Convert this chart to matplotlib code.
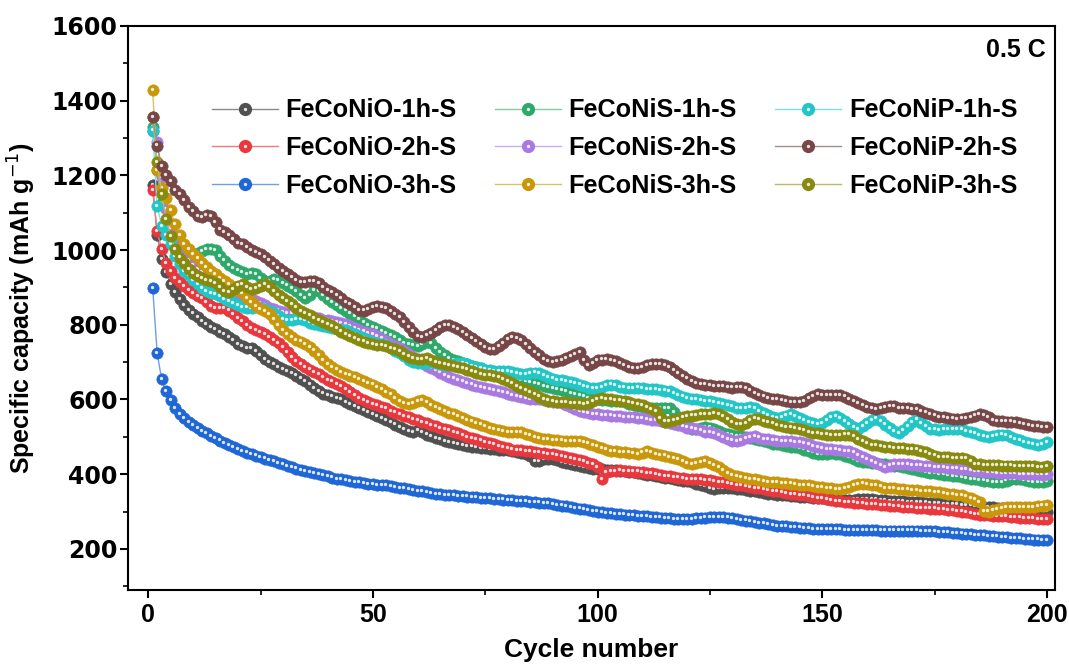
import numpy as np
import matplotlib.pyplot as plt
from matplotlib.lines import Line2D
from matplotlib.legend_handler import HandlerTuple
from matplotlib.transforms import ScaledTranslation
from matplotlib.ticker import MultipleLocator

cycles = np.arange(1, 201)

# specific capacity (mAh g-1), cycle 1..200
feconio_1h = [
    1173, 1040, 976, 940, 910, 888, 868, 852, 840, 830,
    820, 810, 802, 795, 788, 780, 775, 768, 758, 748,
    742, 738, 737, 730, 720, 708, 700, 694, 688, 682,
    676, 670, 664, 656, 649, 640, 630, 622, 616, 612,
    608, 604, 600, 594, 588, 582, 576, 571, 566, 561,
    556, 551, 546, 540, 533, 526, 520, 516, 513, 518,
    512, 506, 501, 497, 493, 489, 486, 483, 480, 478,
    476, 474, 472, 470, 469, 468, 467, 466, 465, 464,
    462, 460, 458, 455, 448, 436, 434, 440, 442, 440,
    437, 433, 429, 426, 424, 421, 419, 417, 415, 414,
    413, 412, 411, 410, 409, 408, 407, 405, 403, 401,
    399, 397, 395, 393, 391, 389, 387, 385, 383, 381,
    378, 375, 372, 368, 364, 361, 362, 363, 363, 362,
    361, 360, 358, 356, 354, 352, 350, 348, 346, 345,
    344, 343, 342, 341, 340, 339, 338, 337, 336, 335,
    334, 333, 331, 330, 330, 331, 332, 333, 334, 334,
    333, 332, 331, 330, 329, 328, 328, 327, 326, 326,
    325, 325, 324, 323, 323, 322, 321, 320, 320, 319,
    318, 317, 316, 315, 314, 313, 312, 311, 310, 309,
    308, 307, 306, 305, 304, 303, 302, 301, 300, 300]

feconio_2h = [
    1160, 1050, 1003, 965, 945, 925, 915, 903, 893, 885,
    878, 872, 862, 850, 845, 845, 845, 838, 828, 818,
    810, 800, 792, 786, 780, 775, 768, 760, 750, 740,
    728, 713, 704, 696, 688, 680, 674, 668, 660, 652,
    648, 642, 635, 628, 620, 613, 605, 598, 592, 587,
    584, 580, 576, 570, 565, 560, 556, 552, 548, 544,
    540, 536, 532, 528, 524, 521, 517, 513, 509, 505,
    500, 496, 493, 490, 487, 484, 480, 476, 472, 469,
    466, 465, 464, 462, 461, 459, 458, 456, 455, 453,
    451, 449, 446, 443, 441, 438, 434, 430, 426, 420,
    388, 405, 408, 409, 410, 409, 408, 407, 407, 406,
    404, 402, 400, 398, 396, 395, 393, 391, 389, 388,
    387, 386, 386, 385, 384, 382, 380, 378, 376, 374,
    372, 370, 368, 366, 364, 362, 360, 358, 356, 354,
    352, 350, 348, 346, 345, 343, 341, 339, 337, 335,
    333, 331, 329, 327, 326, 325, 324, 323, 322, 321,
    320, 319, 318, 317, 316, 315, 314, 313, 312, 311,
    310, 310, 309, 308, 308, 307, 306, 305, 304, 302,
    300, 298, 296, 294, 292, 291, 290, 289, 288, 287,
    287, 286, 285, 284, 283, 283, 282, 281, 281, 281]

feconio_3h = [
    899, 724, 654, 622, 598, 578, 562, 550, 540, 531,
    523, 516, 509, 502, 496, 490, 484, 478, 473, 468,
    463, 458, 454, 450, 446, 442, 438, 434, 430, 426,
    422, 418, 415, 412, 409, 406, 403, 400, 397, 394,
    391, 388, 386, 384, 382, 380, 378, 376, 374, 373,
    372, 371, 370, 368, 366, 364, 362, 360, 358, 356,
    354, 352, 350, 348, 346, 345, 344, 343, 342, 341,
    340, 339, 338, 337, 336, 335, 334, 333, 332, 331,
    330, 329, 328, 327, 326, 325, 324, 323, 322, 320,
    318, 316, 314, 312, 310, 308, 306, 304, 302, 300,
    298, 296, 295, 294, 293, 292, 291, 290, 289, 288,
    287, 286, 285, 284, 283, 282, 281, 281, 280, 280,
    281, 282, 283, 284, 285, 286, 286, 285, 284, 282,
    280, 278, 276, 274, 272, 270, 268, 266, 264, 262,
    261, 260, 259, 258, 257, 256, 255, 254, 254, 254,
    254, 254, 253, 252, 251, 250, 250, 250, 250, 250,
    250, 250, 249, 249, 249, 249, 249, 249, 249, 249,
    249, 248, 248, 248, 247, 246, 245, 244, 243, 242,
    241, 240, 239, 238, 237, 236, 235, 234, 233, 232,
    231, 230, 229, 228, 227, 226, 225, 225, 224, 224]

feconis_1h = [
    1330, 1215, 1125, 1070, 1040, 1025, 1020, 1010, 998, 990,
    992, 998, 1003, 1002, 1000, 985, 972, 960, 952, 946,
    940, 936, 938, 936, 926, 918, 918, 922, 920, 912,
    905, 899, 890, 880, 872, 880, 892, 890, 880, 870,
    860, 852, 845, 838, 830, 822, 814, 806, 800, 795,
    790, 784, 778, 772, 766, 760, 752, 748, 745, 743,
    748, 755, 750, 738, 728, 720, 712, 706, 702, 698,
    694, 690, 686, 683, 680, 676, 671, 666, 662, 659,
    656, 654, 651, 648, 646, 644, 641, 637, 634, 631,
    628, 625, 622, 618, 615, 612, 608, 605, 602, 600,
    599, 598, 597, 596, 595, 592, 589, 586, 583, 580,
    578, 577, 577, 576, 577, 576, 566, 552, 538, 528,
    520, 522, 525, 526, 525, 520, 515, 510, 507, 505,
    503, 501, 499, 497, 495, 492, 488, 485, 482, 480,
    478, 476, 474, 472, 470, 466, 462, 458, 455, 455,
    455, 456, 455, 453, 450, 446, 441, 436, 433, 432,
    431, 430, 428, 426, 425, 423, 421, 419, 417, 415,
    412, 409, 406, 403, 402, 401, 399, 397, 396, 395,
    393, 390, 388, 386, 385, 383, 381, 380, 379, 380,
    383, 386, 388, 388, 385, 381, 378, 378, 380, 382]

feconis_2h = [
    1320, 1290, 1195, 1110, 1060, 1025, 1000, 985, 972, 960,
    950, 940, 930, 920, 912, 905, 898, 892, 886, 880,
    876, 872, 868, 863, 858, 852, 846, 842, 838, 835,
    832, 830, 828, 826, 824, 822, 820, 817, 814, 812,
    810, 808, 805, 801, 797, 792, 787, 782, 778, 775,
    770, 763, 756, 749, 742, 737, 730, 722, 714, 706,
    698, 690, 684, 678, 672, 666, 660, 656, 652, 648,
    644, 640, 637, 634, 631, 628, 625, 622, 619, 616,
    613, 610, 607, 604, 602, 601, 600, 598, 596, 594,
    592, 590, 586, 580, 575, 570, 566, 563, 561, 560,
    559, 558, 557, 556, 555, 554, 553, 552, 551, 550,
    548, 546, 544, 542, 540, 537, 534, 531, 528, 525,
    523, 520, 517, 514, 512, 510, 505, 500, 494, 490,
    488, 492, 497, 500, 501, 498, 495, 493, 491, 490,
    489, 488, 488, 487, 486, 484, 480, 476, 472, 469,
    468, 467, 466, 464, 462, 461, 458, 452, 446, 440,
    435, 429, 424, 420, 423, 426, 427, 427, 426, 425,
    424, 423, 422, 421, 420, 419, 418, 417, 416, 415,
    414, 413, 411, 409, 408, 407, 406, 405, 404, 403,
    403, 402, 402, 401, 401, 400, 400, 400, 399, 400]

feconis_3h = [
    1428, 1215, 1167, 1140, 1106, 1070, 1040, 1017, 1002, 990,
    978, 966, 955, 945, 935, 926, 917, 909, 900, 893,
    886, 872, 860, 850, 843, 836, 829, 815, 800, 785,
    775, 767, 760, 755, 748, 740, 731, 720, 706, 694,
    687, 680, 674, 668, 664, 660, 655, 650, 645, 640,
    634, 628, 621, 614, 604, 596, 590, 588, 591, 595,
    598, 592, 586, 580, 574, 569, 564, 560, 555, 550,
    545, 541, 537, 533, 528, 524, 520, 517, 515, 513,
    512, 512, 512, 508, 504, 500, 497, 495, 493, 492,
    491, 490, 489, 489, 488, 488, 486, 482, 478, 474,
    470, 466, 463, 461, 460, 459, 458, 456, 455, 458,
    461, 458, 455, 452, 450, 447, 443, 440, 436, 431,
    428, 430, 433, 434, 430, 425, 418, 410, 404, 398,
    394, 392, 390, 388, 386, 384, 382, 380, 379, 378,
    377, 376, 375, 374, 372, 371, 370, 368, 366, 365,
    364, 362, 361, 360, 362, 366, 370, 373, 375, 374,
    372, 370, 367, 364, 363, 362, 361, 360, 359, 358,
    357, 356, 355, 354, 353, 351, 350, 348, 347, 345,
    343, 340, 336, 332, 325, 302, 300, 304, 307, 310,
    312, 313, 313, 312, 311, 311, 312, 314, 316, 318]

feconip_1h = [
    1320, 1118, 1065, 1040, 1015, 985, 962, 945, 932, 920,
    908, 898, 890, 886, 882, 876, 870, 864, 858, 853,
    848, 846, 845, 848, 846, 842, 838, 832, 824, 816,
    812, 812, 815, 816, 812, 806, 802, 800, 797, 794,
    791, 790, 789, 785, 780, 775, 770, 765, 760, 755,
    751, 748, 745, 738, 731, 725, 716, 707, 700, 697,
    697, 699, 701, 698, 694, 692, 693, 696, 698, 697,
    694, 690, 687, 684, 680, 678, 677, 676, 676, 675,
    673, 671, 669, 667, 670, 672, 670, 665, 660, 656,
    653, 651, 650, 647, 643, 640, 636, 632, 630, 630,
    634, 638, 640, 638, 634, 632, 630, 631, 632, 630,
    628, 628, 627, 626, 624, 622, 618, 613, 608, 604,
    602, 600, 598, 596, 595, 593, 590, 588, 586, 582,
    577, 576, 578, 580, 576, 570, 564, 558, 553, 550,
    553, 557, 560, 556, 550, 545, 540, 536, 533, 538,
    545, 552, 555, 550, 542, 535, 527, 522, 528, 538,
    545, 549, 543, 533, 524, 515, 509, 518, 530, 540,
    547, 538, 528, 522, 520, 519, 520, 521, 522, 522,
    520, 516, 512, 509, 505, 502, 500, 502, 505, 506,
    504, 499, 495, 491, 487, 483, 480, 478, 481, 487]

feconip_2h = [
    1355, 1280, 1225, 1200, 1185, 1160, 1150, 1135, 1115, 1105,
    1090, 1088, 1093, 1090, 1075, 1055, 1048, 1040, 1030, 1020,
    1015, 1008, 1000, 995, 990, 982, 972, 962, 952, 945,
    937, 928, 920, 915, 915, 918, 918, 912, 900, 893,
    888, 880, 872, 862, 855, 848, 840, 838, 842, 848,
    850, 848, 845, 836, 828, 820, 808, 795, 782, 770,
    768, 772, 778, 786, 795, 800, 800, 795, 788, 780,
    772, 765, 756, 748, 740, 736, 735, 742, 752, 762,
    768, 765, 758, 748, 738, 728, 718, 708, 702, 700,
    703, 706, 710, 716, 722, 728, 705, 692, 698, 705,
    707, 708, 706, 702, 697, 693, 688, 685, 684, 688,
    692, 696, 695, 694, 693, 686, 678, 670, 662, 656,
    650, 645, 642, 640, 638, 636, 635, 636, 634, 632,
    633, 634, 630, 624, 618, 612, 608, 605, 602, 600,
    598, 596, 594, 592, 592, 596, 603, 610, 614, 613,
    612, 612, 613, 611, 608, 602, 596, 590, 585, 580,
    577, 575, 576, 580, 583, 582, 578, 577, 576, 575,
    574, 570, 565, 560, 557, 554, 552, 550, 549, 548,
    549, 550, 553, 557, 560, 558, 552, 546, 543, 542,
    541, 541, 539, 536, 534, 532, 530, 528, 527, 527]

feconip_3h = [
    1355, 1235, 1151, 1084, 1038, 1003, 980, 966, 950, 938,
    930, 925, 920, 917, 912, 900, 891, 888, 895, 905,
    909, 902, 896, 898, 904, 909, 902, 890, 880, 872,
    864, 855, 846, 837, 831, 825, 818, 812, 807, 802,
    796, 790, 782, 775, 770, 765, 760, 755, 751, 748,
    746, 745, 742, 738, 734, 730, 722, 715, 711, 708,
    709, 710, 705, 700, 697, 694, 692, 690, 688, 685,
    680, 676, 672, 668, 666, 665, 663, 660, 655, 650,
    643, 636, 630, 625, 620, 615, 608, 601, 597, 595,
    594, 593, 592, 591, 590, 589, 587, 590, 595, 600,
    603, 602, 600, 598, 597, 595, 592, 589, 587, 584,
    580, 575, 568, 550, 541, 543, 545, 548, 552, 555,
    557, 559, 560, 561, 562, 563, 560, 555, 548, 540,
    535, 533, 538, 545, 549, 547, 543, 540, 536, 532,
    528, 526, 525, 523, 520, 517, 514, 511, 509, 507,
    506, 505, 505, 505, 506, 506, 501, 495, 488, 483,
    479, 477, 475, 473, 472, 471, 470, 469, 468, 467,
    466, 463, 459, 455, 450, 446, 445, 445, 444, 444,
    443, 442, 435, 428, 426, 425, 425, 424, 424, 423,
    423, 423, 422, 422, 422, 421, 421, 420, 420, 421]

labels = ['FeCoNiO-1h-S', 'FeCoNiO-2h-S', 'FeCoNiO-3h-S',
          'FeCoNiS-1h-S', 'FeCoNiS-2h-S', 'FeCoNiS-3h-S',
          'FeCoNiP-1h-S', 'FeCoNiP-2h-S', 'FeCoNiP-3h-S']
colors = ['#505050', '#e8383d', '#1f66d6',
          '#2fa86c', '#a879e0', '#c9980a',
          '#22c6c6', '#774646', '#888a0e']
line_colors = ['#8a8a8a', '#f07a7e', '#6f9fe6',
               '#7fcca4', '#c9aef0', '#dcc06a',
               '#7fe0e0', '#a88a8a', '#b8b96a']


def main():
    plt.rcParams['font.family'] = ['Liberation Sans', 'DejaVu Sans']
    series = [feconio_1h, feconio_2h, feconio_3h,
              feconis_1h, feconis_2h, feconis_3h,
              feconip_1h, feconip_2h, feconip_3h]

    fig = plt.figure(figsize=(10.69, 6.68), dpi=100)
    ax = fig.add_axes([0.1197, 0.1168, 0.8673, 0.8443])
    shift = ScaledTranslation(-0.8 / 72, 0.8 / 72, fig.dpi_scale_trans)

    # drawing order (bottom -> top)
    order = [0, 1, 2, 3, 4, 6, 5, 8, 7]
    handles = [None] * 9
    for k, i in enumerate(order):
        z = 2 + k * 0.1
        ax.plot(cycles, series[i], '-', color=line_colors[i], lw=1, zorder=z)
        ax.plot(cycles, series[i], 'o', ms=8.2, mfc=colors[i],
                mec=colors[i], mew=0.4, zorder=z + 0.03)
        ax.plot(cycles, series[i], 'o', ms=2.4, color='white', alpha=0.85,
                mew=0, zorder=z + 0.06, transform=ax.transData + shift)
        h1 = Line2D([], [], color=line_colors[i], lw=1, marker='o', ms=8.5,
                    mfc=colors[i], mec=colors[i])
        h2 = Line2D([], [], ls='none', marker='o', ms=2.4, color='white',
                    mew=0, alpha=0.85)
        handles[i] = (h1, h2)

    ax.legend(handles, labels, ncol=3, frameon=False, loc='upper left',
              bbox_to_anchor=(0.066, 0.912), handlelength=2.6,
              columnspacing=1.5, labelspacing=0.55, handletextpad=0.32,
              handler_map={tuple: HandlerTuple(ndivide=1)},
              prop={'weight': 'bold', 'size': 18.2})

    ax.text(0.99, 0.979, '0.5 C', transform=ax.transAxes, ha='right',
            va='top', fontsize=18, fontweight='bold')

    ax.set_xlim(-4.5, 201.8)
    ax.set_ylim(90, 1600)
    ax.xaxis.set_major_locator(MultipleLocator(50))
    ax.xaxis.set_minor_locator(MultipleLocator(25))
    ax.yaxis.set_minor_locator(MultipleLocator(100))
    ax.set_yticks(range(200, 1601, 200))
    ax.tick_params(which='major', direction='out', length=6, width=1.5)
    ax.tick_params(which='minor', direction='out', length=3.5, width=1.2)
    ax.tick_params(axis='y', which='major', pad=1.5)
    for lab in ax.get_yticklabels():
        lab.set_family(['DejaVu Sans'])
        lab.set_fontweight('bold')
        lab.set_fontsize(17)
    for lab in ax.get_xticklabels():
        lab.set_fontweight('bold')
        lab.set_fontsize(18)
    for s in ax.spines.values():
        s.set_linewidth(1.5)

    ax.set_xlabel('Cycle number', fontsize=19, fontweight='bold', labelpad=8)
    ax.set_ylabel('Specific capacity (mAh g$^{-1}$)', fontsize=18,
                  fontweight='bold', labelpad=10)

    fig.savefig('out.png', dpi=100)


if __name__ == "__main__":
    main()
